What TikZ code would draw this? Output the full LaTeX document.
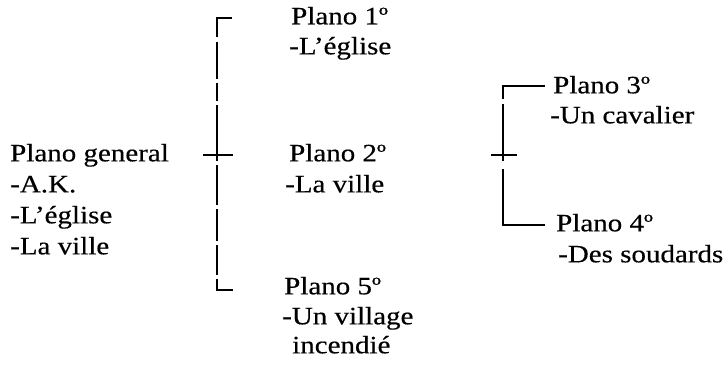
\documentclass[tikz,border=0pt]{standalone}
\usepackage{fontspec}
\setmainfont{Liberation Serif}[FakeStretch=1.16,FakeBold=0.4]
\begin{document}
\begin{tikzpicture}[x=1pt,y=-1pt,
  txt/.style={anchor=mid west, inner sep=0pt, font=\fontsize{25}{30}\selectfont},
  brk/.style={line width=1.8pt}]
\useasboundingbox (0,0) rectangle (728,376);
% left column
\node[txt] (g0) at (10,159) {Plano general};
\node[txt] (g1) at (10,190) {-A.K.};
\node[txt] (g2) at (10,221) {-L’église};
\node[txt] (g3) at (10,252) {-La ville};
% middle column
\node[txt] (p1) at (291,22) {Plano 1º};
\node[txt] (p1a) at (289,52) {-L’église};
\node[txt] (p2) at (289,159) {Plano 2º};
\node[txt] (p2a) at (285,190) {-La ville};
\node[txt] (p5) at (284,292) {Plano 5º};
\node[txt] (p5a) at (282,322) {-Un village};
\node[txt] (p5b) at (292,351) {incendié};
% right column
\node[txt] (p3) at (553,91) {Plano 3º};
\node[txt] (p3a) at (550,121) {-Un cavalier};
\node[txt] (p4) at (556,229) {Plano 4º};
\node[txt] (p4a) at (558,260) {-Des soudards};
% left bracket
\coordinate (lt) at (217,18);
\coordinate (lc) at (217,155);
\coordinate (lb) at (217,290);
\draw[brk] (232,18) -- (lt) -- (217,37);
\draw[brk] (217,42) -- (217,79) (217,83) -- (217,101) (217,105) -- (lc) -- (217,161);
\draw[brk] (217,165) -- (217,205) (217,209) -- (217,241) (217,245) -- (217,275);
\draw[brk] (217,279) -- (lb) -- (233,290);
\draw[brk] (203,155) -- (lc) -- (233,155);
% right bracket
\coordinate (rt) at (503,86);
\coordinate (rc) at (503,155);
\coordinate (rb) at (503,225);
\draw[brk] (545,86) -- (rt) -- (503,99);
\draw[brk] (503,104) -- (rc) -- (503,161);
\draw[brk] (503,169) -- (rb) -- (545,225);
\draw[brk] (491,155) -- (rc) -- (517,155);
\end{tikzpicture}
\end{document}
